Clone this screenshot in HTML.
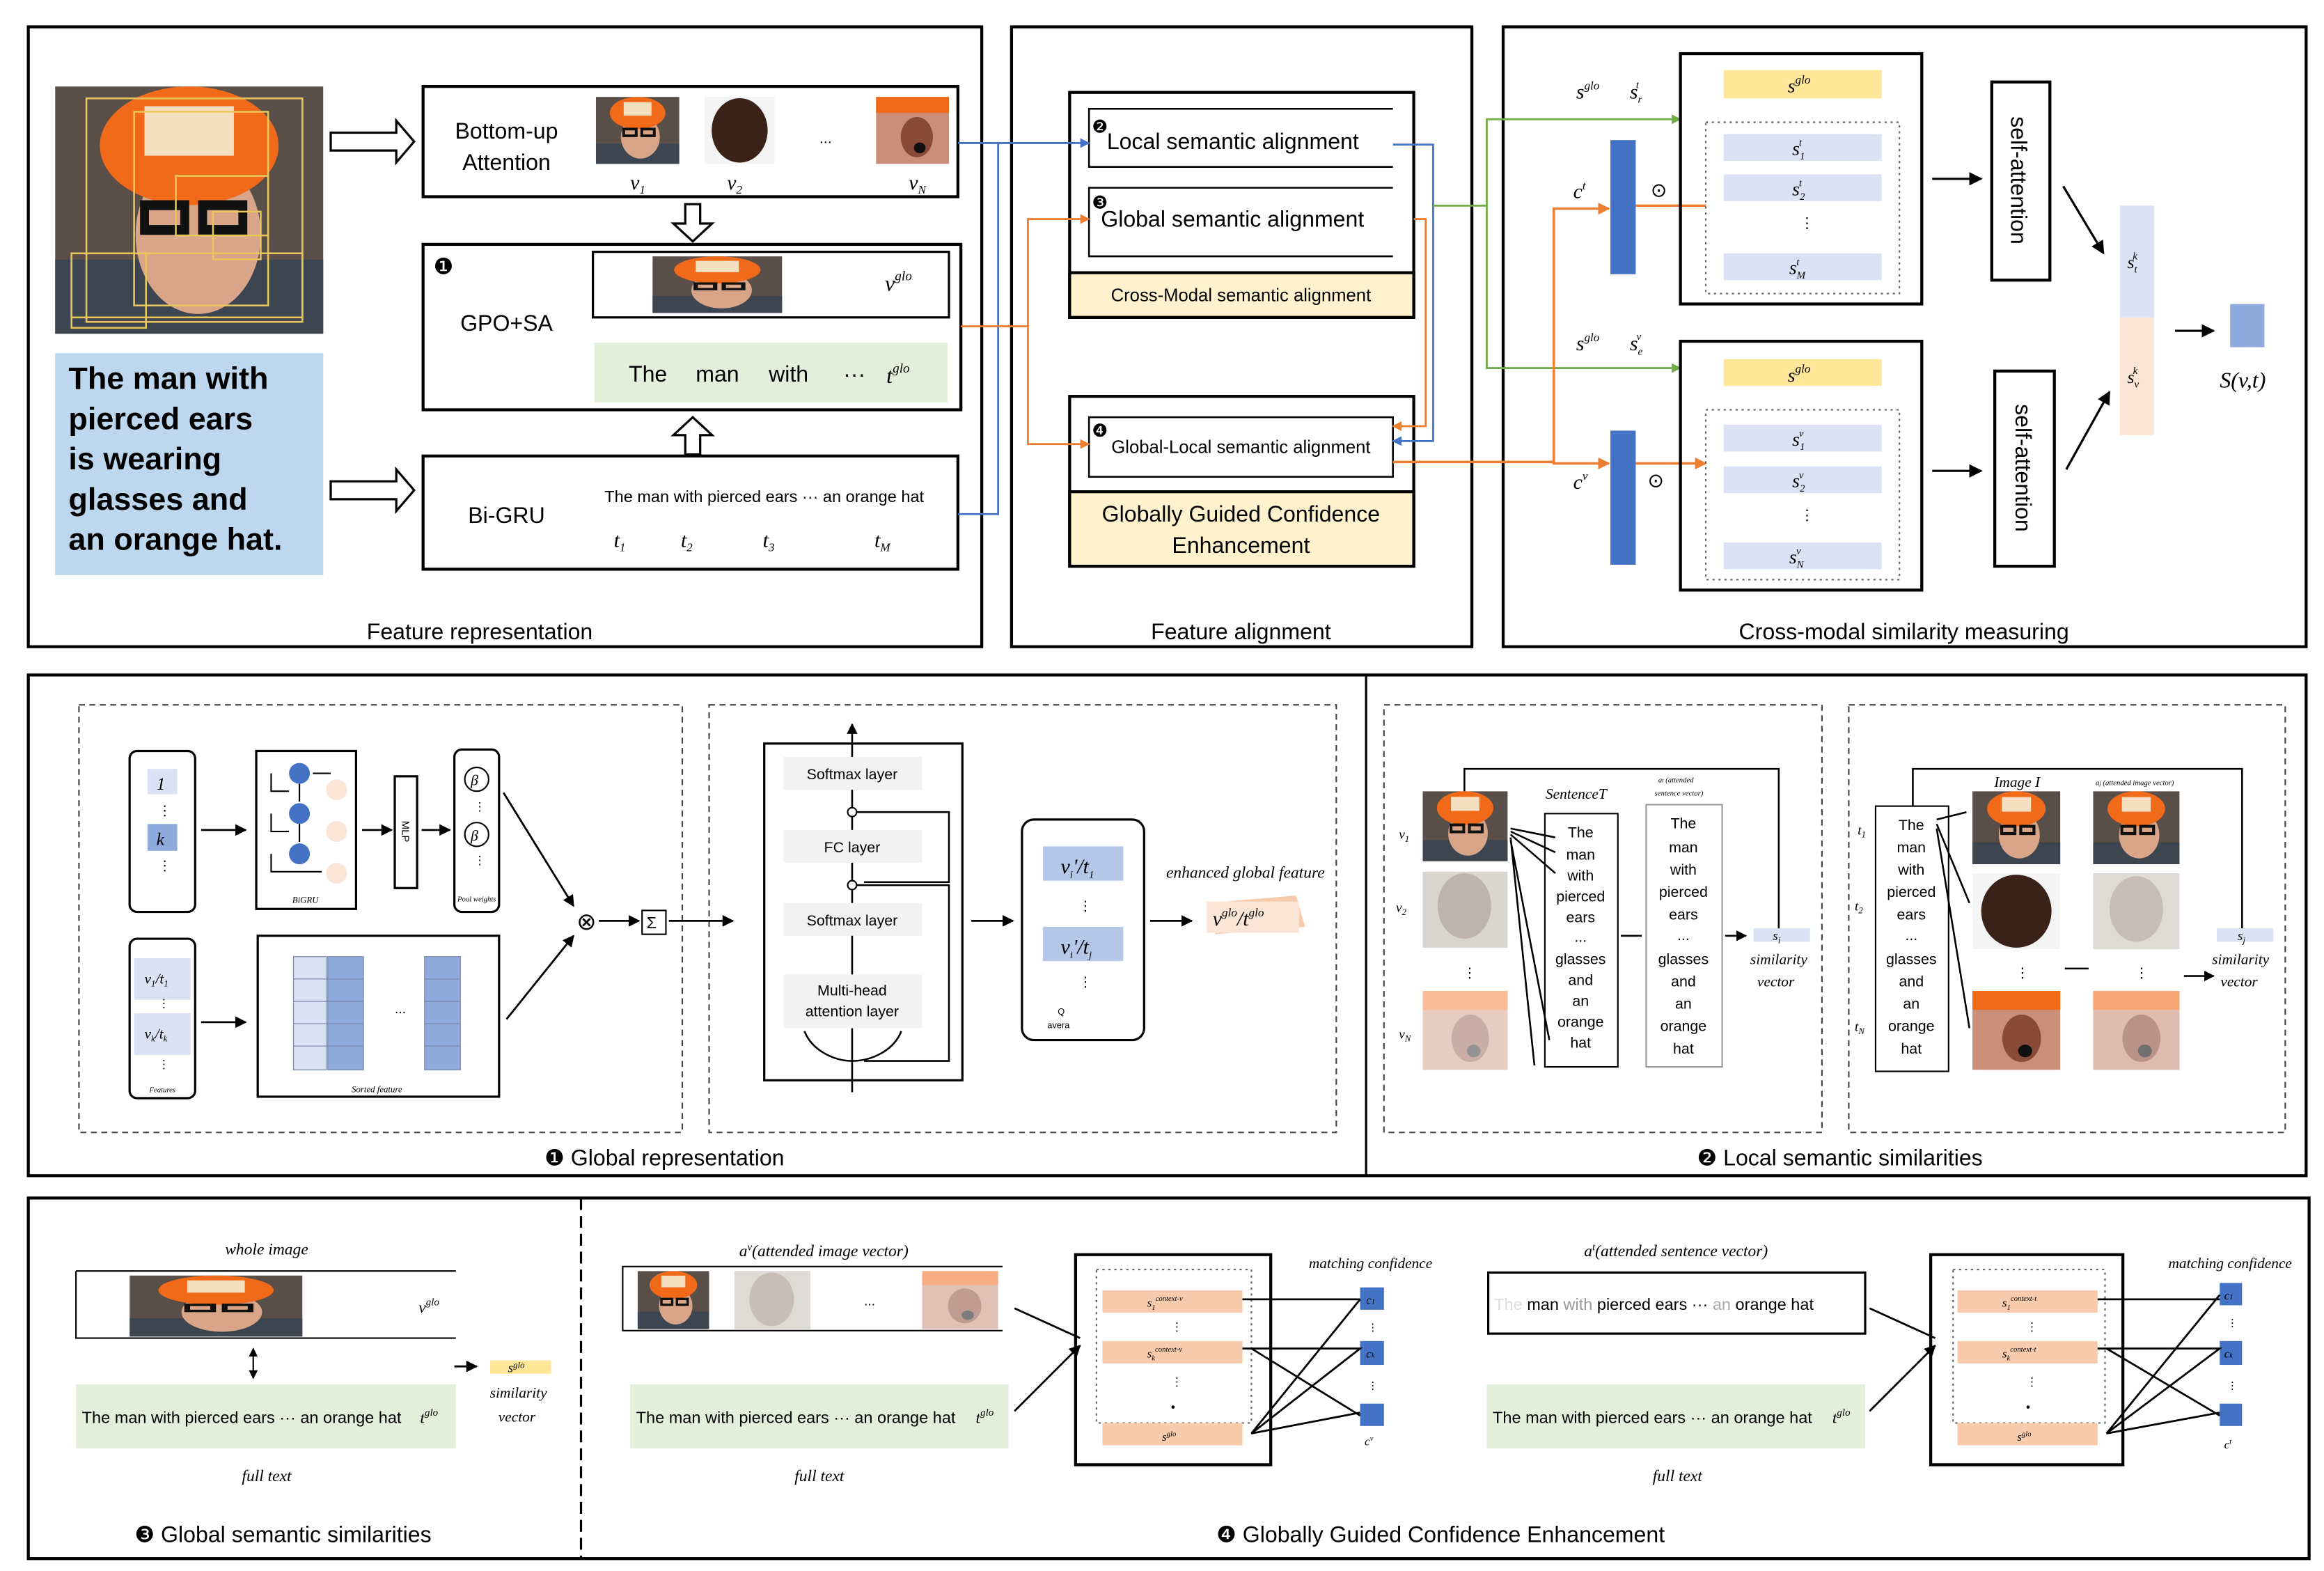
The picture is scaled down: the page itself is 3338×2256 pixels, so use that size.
<!DOCTYPE html>
<html><head><meta charset="utf-8"><style>
html,body{margin:0;padding:0;background:#fff}
svg{display:block}
text{font-family:"Liberation Sans",sans-serif;fill:#000}
.m{font-family:"Liberation Serif",serif;font-style:italic}
</style></head><body>
<svg width="3338" height="2256" viewBox="0 0 1560 1054.3" xmlns="http://www.w3.org/2000/svg">
<defs>
<marker id="a" viewBox="0 0 10 10" refX="9" refY="5" markerWidth="6" markerHeight="6" orient="auto"><path d="M0,0L10,5L0,10z" fill="#000"/></marker>
<marker id="ab" viewBox="0 0 10 10" refX="9" refY="5" markerWidth="5" markerHeight="5" orient="auto"><path d="M0,0L10,5L0,10z" fill="#4472c4"/></marker>
<marker id="ao" viewBox="0 0 10 10" refX="9" refY="5" markerWidth="5" markerHeight="5" orient="auto"><path d="M0,0L10,5L0,10z" fill="#ed7d31"/></marker>
<marker id="ag" viewBox="0 0 10 10" refX="9" refY="5" markerWidth="5" markerHeight="5" orient="auto"><path d="M0,0L10,5L0,10z" fill="#70ad47"/></marker>
<symbol id="face" viewBox="0 0 60 50" preserveAspectRatio="none">
<rect width="60" height="50" fill="#5a4e48"/><rect y="35" width="60" height="15" fill="#3d4650"/>
<ellipse cx="32" cy="30" rx="14" ry="16" fill="#d8a588"/>
<ellipse cx="30" cy="12" rx="20" ry="12" fill="#f06a1a"/><rect x="20" y="4" width="20" height="10" fill="#f4e0c0"/>
<rect x="20" y="24" width="9" height="5" fill="none" stroke="#111" stroke-width="2"/><rect x="33" y="24" width="9" height="5" fill="none" stroke="#111" stroke-width="2"/>
</symbol>
<symbol id="ear" viewBox="0 0 50 50" preserveAspectRatio="none">
<rect width="50" height="50" fill="#c98f78"/><rect width="50" height="12" fill="#f06a1a"/><ellipse cx="28" cy="30" rx="11" ry="15" fill="#8a4a3a"/><circle cx="30" cy="38" r="4" fill="#111"/>
</symbol>
<symbol id="hair" viewBox="0 0 50 50" preserveAspectRatio="none">
<rect width="50" height="50" fill="#f4f4f4"/><ellipse cx="25" cy="25" rx="20" ry="24" fill="#3a2218"/>
</symbol>
</defs>

<g fill="none" stroke="#000" stroke-width="2">
<rect x="19" y="18" width="640" height="416"/>
<rect x="679" y="18" width="309" height="416"/>
<rect x="1009" y="18" width="539" height="416"/>
</g>
<use href="#face" x="37" y="58" width="180" height="166"/>
<g fill="none" stroke="#e8c65a" stroke-width="1.2">
<rect x="58" y="66" width="145" height="150"/><rect x="90" y="75" width="90" height="130"/><rect x="118" y="118" width="62" height="40"/><rect x="143" y="142" width="32" height="32"/><rect x="48" y="170" width="155" height="43"/><rect x="48" y="170" width="50" height="50"/>
</g>
<rect x="37" y="237" width="180" height="149" fill="#bdd7ee"/>
<g font-size="21" font-weight="bold" fill="#222">
<text x="46" y="261">The man with</text><text x="46" y="288">pierced ears</text><text x="46" y="315">is wearing</text><text x="46" y="342">glasses and</text><text x="46" y="369">an orange hat.</text>
</g>
<g fill="#fff" stroke="#000" stroke-width="1.5">
<path d="M222,89h44v-8l12,14l-12,14v-8h-44z"/>
<path d="M222,323h44v-8l12,14l-12,14v-8h-44z"/>
<path d="M460,137h10v13h8l-13,12l-13,-12h8z"/>
<path d="M460,305h10v-13h8l-13,-12l-13,12h8z"/>
</g>
<rect x="284" y="58" width="359" height="74" fill="none" stroke="#000" stroke-width="2"/>
<text x="340" y="93" font-size="15" text-anchor="middle">Bottom-up</text>
<text x="340" y="114" font-size="15" text-anchor="middle">Attention</text>
<use href="#face" x="400" y="65" width="56" height="45"/>
<use href="#hair" x="473" y="65" width="47" height="45"/>
<use href="#ear" x="588" y="65" width="49" height="45"/>
<text x="550" y="96" font-size="10">...</text>
<text class="m" x="423" y="127" font-size="14">v<tspan font-size="8" dy="3">1</tspan></text>
<text class="m" x="488" y="127" font-size="14">v<tspan font-size="8" dy="3">2</tspan></text>
<text class="m" x="610" y="127" font-size="14">v<tspan font-size="8" dy="3">N</tspan></text>
<rect x="284" y="164" width="361" height="111" fill="none" stroke="#000" stroke-width="2"/>
<text x="291" y="184" font-size="15">❶</text>
<text x="340" y="222" font-size="15" text-anchor="middle">GPO+SA</text>
<rect x="398" y="169" width="239" height="44" fill="#fff" stroke="#000" stroke-width="1.5"/>
<use href="#face" x="438" y="172" width="87" height="38"/>
<text class="m" x="594" y="195" font-size="15">v<tspan font-size="9" dy="-7">glo</tspan></text>
<rect x="399" y="230" width="237" height="40" fill="#e2efda"/>
<text x="422" y="256" font-size="15">The</text><text x="467" y="256" font-size="15">man</text><text x="516" y="256" font-size="15">with</text><text x="566" y="256" font-size="15">···</text>
<text class="m" x="595" y="257" font-size="15">t<tspan font-size="9" dy="-7">glo</tspan></text>
<rect x="284" y="306" width="359" height="76" fill="none" stroke="#000" stroke-width="2"/>
<text x="340" y="351" font-size="15" text-anchor="middle">Bi-GRU</text>
<text x="513" y="337" font-size="11" text-anchor="middle">The man with pierced ears ··· an orange hat</text>
<text class="m" x="412" y="367" font-size="14">t<tspan font-size="8" dy="3">1</tspan></text>
<text class="m" x="457" y="367" font-size="14">t<tspan font-size="8" dy="3">2</tspan></text>
<text class="m" x="512" y="367" font-size="14">t<tspan font-size="8" dy="3">3</tspan></text>
<text class="m" x="587" y="367" font-size="14">t<tspan font-size="8" dy="3">M</tspan></text>
<text x="322" y="429" font-size="15" text-anchor="middle">Feature representation</text>

<rect x="718" y="62" width="231" height="151" fill="none" stroke="#000" stroke-width="2"/>
<rect x="718" y="183" width="231" height="30" fill="#fff2cc" stroke="#000" stroke-width="2"/>
<path d="M935,73H731V112H935M935,126H731V172H935" fill="none" stroke="#000" stroke-width="1.2"/>
<text x="733" y="89" font-size="12">❷</text><text x="743" y="100" font-size="15">Local semantic alignment</text>
<text x="733" y="140" font-size="12">❸</text><text x="739" y="152" font-size="15">Global semantic alignment</text>
<text x="833" y="202" font-size="12" text-anchor="middle">Cross-Modal semantic alignment</text>
<rect x="718" y="266" width="231" height="114" fill="none" stroke="#000" stroke-width="2"/>
<rect x="718" y="330" width="231" height="50" fill="#fff2cc" stroke="#000" stroke-width="2"/>
<rect x="731" y="280" width="204" height="40" fill="#fff" stroke="#000" stroke-width="1.2"/>
<text x="733" y="293" font-size="12">❹</text><text x="833" y="304" font-size="12" text-anchor="middle">Global-Local semantic alignment</text>
<text x="833" y="350" font-size="15" text-anchor="middle">Globally Guided Confidence</text>
<text x="833" y="371" font-size="15" text-anchor="middle">Enhancement</text>
<text x="833" y="429" font-size="15" text-anchor="middle">Feature alignment</text>

<g fill="none" stroke-width="1.3">
<path d="M643,96H731" stroke="#4472c4" marker-end="url(#ab)"/>
<path d="M643,345H670V96" stroke="#4472c4"/>
<path d="M645,219H690V147H731" stroke="#ed7d31" marker-end="url(#ao)"/>
<path d="M690,219V298H731" stroke="#ed7d31" marker-end="url(#ao)"/>
<path d="M935,97H962V296H935" stroke="#4472c4" marker-end="url(#ab)"/>
<path d="M949,147H957V286H935" stroke="#ed7d31" marker-end="url(#ao)"/>
<path d="M962,138H998V80H1128" stroke="#70ad47" marker-end="url(#ag)"/>
<path d="M998,138V247H1128" stroke="#70ad47" marker-end="url(#ag)"/>
<path d="M935,310H1043V140H1080" stroke="#ed7d31" stroke-width="1.6" marker-end="url(#ao)"/>
<path d="M1043,310V311H1080" stroke="#ed7d31" stroke-width="1.6" marker-end="url(#ao)"/>
<path d="M1098,138H1145M1098,311H1145" stroke="#ed7d31" stroke-width="1.6" marker-end="url(#ao)"/>
</g>

<g>
<rect x="1128" y="36" width="162" height="168" fill="none" stroke="#000" stroke-width="2"/>
<rect x="1157" y="47" width="106" height="19" fill="#ffe699"/>
<text class="m" x="1200" y="62" font-size="13">s<tspan font-size="8" dy="-6">glo</tspan></text>
<rect x="1145" y="82" width="130" height="115" fill="none" stroke="#666" stroke-width="1" stroke-dasharray="1.5,2.5"/>
<rect x="1157" y="90" width="106" height="18" fill="#dae3f3"/><rect x="1157" y="117" width="106" height="18" fill="#dae3f3"/><rect x="1157" y="170" width="106" height="18" fill="#dae3f3"/>
<text class="m" x="1203" y="104" font-size="13">s<tspan font-size="7" dy="3">1</tspan><tspan font-size="7" dx="-4" dy="-9">t</tspan></text>
<text class="m" x="1203" y="131" font-size="13">s<tspan font-size="7" dy="3">2</tspan><tspan font-size="7" dx="-4" dy="-9">t</tspan></text>
<text x="1208" y="153" font-size="10">⋮</text>
<text class="m" x="1201" y="184" font-size="13">s<tspan font-size="7" dy="3">M</tspan><tspan font-size="7" dx="-6" dy="-9">t</tspan></text>
<rect x="1081" y="94" width="17" height="90" fill="#4472c4"/>
<text class="m" x="1056" y="133" font-size="14">c<tspan font-size="8" dy="-6">t</tspan></text>
<text x="1108" y="132" font-size="13">⊙</text>
<text class="m" x="1058" y="66" font-size="14">s<tspan font-size="8" dy="-6">glo</tspan></text>
<text class="m" x="1094" y="66" font-size="14">s<tspan font-size="7" dy="3">r</tspan><tspan font-size="7" dx="-4" dy="-10">t</tspan></text>

<rect x="1128" y="229" width="162" height="167" fill="none" stroke="#000" stroke-width="2"/>
<rect x="1157" y="241" width="106" height="18" fill="#ffe699"/>
<text class="m" x="1200" y="256" font-size="13">s<tspan font-size="8" dy="-6">glo</tspan></text>
<rect x="1145" y="275" width="130" height="114" fill="none" stroke="#666" stroke-width="1" stroke-dasharray="1.5,2.5"/>
<rect x="1157" y="285" width="106" height="18" fill="#dae3f3"/><rect x="1157" y="313" width="106" height="18" fill="#dae3f3"/><rect x="1157" y="364" width="106" height="18" fill="#dae3f3"/>
<text class="m" x="1203" y="299" font-size="13">s<tspan font-size="7" dy="3">1</tspan><tspan font-size="7" dx="-4" dy="-9">v</tspan></text>
<text class="m" x="1203" y="327" font-size="13">s<tspan font-size="7" dy="3">2</tspan><tspan font-size="7" dx="-4" dy="-9">v</tspan></text>
<text x="1208" y="349" font-size="10">⋮</text>
<text class="m" x="1201" y="378" font-size="13">s<tspan font-size="7" dy="3">N</tspan><tspan font-size="7" dx="-5" dy="-9">v</tspan></text>
<rect x="1081" y="289" width="17" height="90" fill="#4472c4"/>
<text class="m" x="1056" y="328" font-size="14">c<tspan font-size="8" dy="-6">v</tspan></text>
<text x="1106" y="327" font-size="13">⊙</text>
<text class="m" x="1058" y="235" font-size="14">s<tspan font-size="8" dy="-6">glo</tspan></text>
<text class="m" x="1094" y="235" font-size="14">s<tspan font-size="7" dy="3">e</tspan><tspan font-size="7" dx="-4" dy="-10">v</tspan></text>

<rect x="1337" y="55" width="39" height="133" fill="#fff" stroke="#000" stroke-width="2"/>
<rect x="1339" y="249" width="40" height="131" fill="#fff" stroke="#000" stroke-width="2"/>
<text transform="translate(1350,121) rotate(90)" font-size="15" text-anchor="middle">self-attention</text>
<text transform="translate(1353,314) rotate(90)" font-size="15" text-anchor="middle">self-attention</text>
<g stroke="#000" stroke-width="1.5" fill="none" marker-end="url(#a)">
<path d="M1297,120H1330"/><path d="M1297,316H1330"/><path d="M1385,125L1412,170"/><path d="M1387,315L1416,263"/><path d="M1460,222H1486"/>
</g>
<rect x="1423" y="138" width="23" height="75" fill="#dae3f3"/><rect x="1423" y="213" width="23" height="79" fill="#fbe5d6"/>
<text class="m" x="1428" y="180" font-size="12">s<tspan font-size="7" dy="3">t</tspan><tspan font-size="7" dx="-3" dy="-9">k</tspan></text>
<text class="m" x="1428" y="257" font-size="12">s<tspan font-size="7" dy="3">v</tspan><tspan font-size="7" dx="-4" dy="-9">k</tspan></text>
<rect x="1497" y="204" width="23" height="29" fill="#8faadc"/>
<text class="m" x="1490" y="260" font-size="15">S(v,t)</text>
<text x="1278" y="429" font-size="15" text-anchor="middle">Cross-modal similarity measuring</text>
</g>

<rect x="19" y="453" width="1529" height="336" fill="none" stroke="#000" stroke-width="2"/>
<path d="M917,453V789" stroke="#000" stroke-width="1.5"/>
<g fill="none" stroke="#444" stroke-width="1" stroke-dasharray="4,3">
<rect x="53" y="473" width="405" height="287"/><rect x="476" y="473" width="421" height="287"/>
<rect x="929" y="473" width="294" height="287"/><rect x="1241" y="473" width="293" height="287"/>
</g>
<rect x="87" y="504" width="44" height="108" rx="5" fill="none" stroke="#000" stroke-width="1.5"/>
<rect x="99" y="516" width="20" height="17" fill="#dae3f3"/><text class="m" x="105" y="530" font-size="12">1</text>
<text x="106" y="547" font-size="9">⋮</text>
<rect x="99" y="553" width="20" height="18" fill="#8faadc"/><text class="m" x="105" y="567" font-size="12">k</text>
<text x="106" y="584" font-size="9">⋮</text>
<rect x="172" y="504" width="67" height="106" fill="none" stroke="#000" stroke-width="1.5"/>
<g fill="#4472c4"><circle cx="201" cy="519" r="7"/><circle cx="201" cy="546" r="7"/><circle cx="201" cy="573" r="7"/></g>
<g fill="#fbe5d6"><circle cx="226" cy="530" r="7"/><circle cx="226" cy="558" r="7"/><circle cx="226" cy="586" r="7"/></g>
<g stroke="#000" stroke-width="1" fill="none"><path d="M182,519V531H194M182,546V558H194M182,573V585H216M201,526V538M201,553V565M210,519H222"/></g>
<text x="205" y="606" font-size="6" class="m" text-anchor="middle">BiGRU</text>
<rect x="265" y="521" width="15" height="75" fill="none" stroke="#000" stroke-width="1.5"/>
<text transform="translate(270,558) rotate(90)" font-size="7" text-anchor="middle">MLP</text>
<rect x="305" y="503" width="30" height="109" rx="5" fill="none" stroke="#000" stroke-width="1.5"/>
<circle cx="320" cy="523" r="8" fill="none" stroke="#000"/><text class="m" x="316" y="527" font-size="10">β</text>
<circle cx="320" cy="560" r="8" fill="none" stroke="#000"/><text class="m" x="316" y="564" font-size="10">β</text>
<text x="318" y="544" font-size="8">⋮</text><text x="318" y="580" font-size="8">⋮</text>
<text x="320" y="605" font-size="5" class="m" text-anchor="middle">Pool weights</text>
<rect x="87" y="630" width="44" height="107" rx="5" fill="none" stroke="#000" stroke-width="1.5"/>
<rect x="90" y="643" width="38" height="28" fill="#dae3f3"/><rect x="90" y="680" width="38" height="28" fill="#dae3f3"/>
<text class="m" x="97" y="660" font-size="10">v<tspan font-size="6" dy="2">1</tspan><tspan dy="-2">/t</tspan><tspan font-size="6" dy="2">1</tspan></text>
<text class="m" x="97" y="697" font-size="10">v<tspan font-size="6" dy="2">k</tspan><tspan dy="-2">/t</tspan><tspan font-size="6" dy="2">k</tspan></text>
<text x="106" y="676" font-size="8">⋮</text><text x="106" y="717" font-size="8">⋮</text>
<text x="109" y="733" font-size="5" class="m" text-anchor="middle">Features</text>
<rect x="173" y="628" width="162" height="108" fill="none" stroke="#000" stroke-width="1.5"/>
<g stroke="#7a8aa8" stroke-width="0.6">
<rect x="197" y="642" width="22" height="76" fill="#dae3f3"/><rect x="220" y="642" width="24" height="76" fill="#8faadc"/><rect x="285" y="642" width="24" height="76" fill="#8faadc"/>
<path d="M197,657H244M197,672H244M197,687H244M197,702H244M285,657H309M285,672H309M285,687H309M285,702H309"/>
</g>
<text x="265" y="680" font-size="9">...</text>
<text x="253" y="733" font-size="6" class="m" text-anchor="middle">Sorted feature</text>
<g stroke="#000" stroke-width="1.3" fill="none" marker-end="url(#a)">
<path d="M135,557H165"/><path d="M243,557H263"/><path d="M283,557H302"/><path d="M135,686H165"/>
<path d="M338,532L385,608"/><path d="M340,684L385,628"/><path d="M402,618H429"/><path d="M449,618H492"/>
<path d="M652,618H680"/><path d="M772,618H800"/>
</g>
<text x="387" y="624" font-size="16">⊗</text>
<rect x="431" y="611" width="16" height="16" fill="none" stroke="#000"/><text x="434" y="623" font-size="11">Σ</text>
<rect x="513" y="499" width="133" height="226" fill="none" stroke="#000" stroke-width="1.5"/>
<g fill="#f2f2f2"><rect x="526" y="508" width="93" height="22"/><rect x="526" y="557" width="93" height="22"/><rect x="526" y="606" width="93" height="22"/><rect x="526" y="654" width="93" height="36"/></g>
<g font-size="10" text-anchor="middle"><text x="572" y="523">Softmax layer</text><text x="572" y="572">FC layer</text><text x="572" y="621">Softmax layer</text><text x="572" y="668">Multi-head</text><text x="572" y="682">attention layer</text></g>
<g stroke="#000" stroke-width="1.2" fill="none">
<path d="M572,733V690M572,654V628M572,606V579M572,557V530M572,508V486" marker-end="url(#a)"/>
<path d="M572,594H637V712H580M572,545H637V592H580"/>
<path d="M572,712C560,712 545,705 540,692M572,712C585,712 600,705 605,692"/>
</g>
<circle cx="572" cy="594" r="3" fill="#fff" stroke="#000"/><circle cx="572" cy="545" r="3" fill="#fff" stroke="#000"/>
<rect x="686" y="550" width="82" height="148" rx="8" fill="none" stroke="#000" stroke-width="1.5"/>
<rect x="700" y="568" width="54" height="23" fill="#b4c7e7"/><rect x="700" y="622" width="54" height="23" fill="#b4c7e7"/>
<text class="m" x="712" y="586" font-size="14">v<tspan font-size="7" dy="3">i</tspan><tspan dy="-3">'/t</tspan><tspan font-size="7" dy="3">1</tspan></text>
<text class="m" x="712" y="640" font-size="14">v<tspan font-size="7" dy="3">i</tspan><tspan dy="-3">'/t</tspan><tspan font-size="7" dy="3">j</tspan></text>
<text x="724" y="611" font-size="9">⋮</text><text x="724" y="662" font-size="9">⋮</text>
<text x="710" y="681" font-size="6">Q</text><text x="703" y="690" font-size="6">avera</text>
<text class="m" x="836" y="589" font-size="11" text-anchor="middle">enhanced global feature</text>
<path d="M810,606L870,601L876,622L816,627z" fill="#f8cbad"/><rect x="810" y="605" width="62" height="21" fill="#fbe5d6"/>
<text class="m" x="814" y="621" font-size="14">v<tspan font-size="8" dy="-6">glo</tspan><tspan dy="6">/t</tspan><tspan font-size="8" dy="-6">glo</tspan></text>
<text x="446" y="782" font-size="15" text-anchor="middle">❶  Global representation</text>
<use href="#face" x="955" y="531" width="57" height="47"/>
<rect x="955" y="585" width="57" height="51" fill="#d9d6d2"/><ellipse cx="983" cy="608" rx="18" ry="22" fill="#bdb4ad"/>
<use href="#ear" x="955" y="665" width="57" height="53"/><rect x="955" y="665" width="57" height="53" fill="#fff" opacity="0.55"/>
<text class="m" x="939" y="563" font-size="9">v<tspan font-size="6" dy="2">1</tspan></text>
<text class="m" x="937" y="612" font-size="9">v<tspan font-size="6" dy="2">2</tspan></text>
<text class="m" x="939" y="697" font-size="9">v<tspan font-size="6" dy="2">N</tspan></text>
<text x="982" y="656" font-size="9">⋮</text>
<rect x="1037" y="546" width="49" height="170" fill="none" stroke="#000"/>
<g font-size="10" text-anchor="middle"><text x="1061" y="562">The</text><text x="1061" y="577">man</text><text x="1061" y="591">with</text><text x="1061" y="605">pierced</text><text x="1061" y="619">ears</text><text x="1061" y="632">...</text><text x="1061" y="647">glasses</text><text x="1061" y="661">and</text><text x="1061" y="675">an</text><text x="1061" y="689">orange</text><text x="1061" y="703">hat</text></g>
<rect x="1105" y="540" width="51" height="176" fill="none" stroke="#999"/>
<g font-size="10" text-anchor="middle"><text x="1130" y="556" fill="#ddd">The</text><text x="1130" y="572">man</text><text x="1130" y="587" fill="#aaa">with</text><text x="1130" y="602">pierced</text><text x="1130" y="617">ears</text><text x="1130" y="631">...</text><text x="1130" y="647" fill="#999">glasses</text><text x="1130" y="662" fill="#bbb">and</text><text x="1130" y="677" fill="#bbb">an</text><text x="1130" y="692">orange</text><text x="1130" y="707">hat</text></g>
<text class="m" x="1058" y="536" font-size="10" text-anchor="middle">SentenceT</text>
<text class="m" x="1125" y="525" font-size="5" text-anchor="middle">a<tspan font-size="4">t</tspan> (attended</text>
<text class="m" x="1127" y="534" font-size="5" text-anchor="middle">sentence vector)</text>
<g stroke="#000" stroke-width="1.2" fill="none">
<path d="M983,531V516H1194V630" marker-end="url(#a)"/>
<path d="M1014,556L1044,562M1014,558L1044,572M1014,560L1044,586M1014,562L1030,715M1014,564L1040,698M1088,628H1102M1158,628H1172" marker-end="url(#a)"/>
</g>
<rect x="1177" y="623" width="38" height="9" fill="#dae3f3"/><text class="m" x="1190" y="631" font-size="9">s<tspan font-size="6" dy="2">i</tspan></text>
<text class="m" x="1194" y="647" font-size="10" text-anchor="middle">similarity</text><text class="m" x="1192" y="662" font-size="10" text-anchor="middle">vector</text>
<rect x="1259" y="541" width="49" height="178" fill="none" stroke="#000"/>
<g font-size="10" text-anchor="middle"><text x="1283" y="557">The</text><g fill="#bbb"><text x="1283" y="572">man</text><text x="1283" y="587">with</text><text x="1283" y="602">pierced</text><text x="1283" y="617">ears</text><text x="1283" y="631">...</text><text x="1283" y="647">glasses</text><text x="1283" y="662">and</text><text x="1283" y="677">an</text><text x="1283" y="692">orange</text><text x="1283" y="707">hat</text></g></g>
<text class="m" x="1247" y="560" font-size="9">t<tspan font-size="6" dy="2">1</tspan></text>
<text class="m" x="1245" y="611" font-size="9">t<tspan font-size="6" dy="2">2</tspan></text>
<text class="m" x="1245" y="692" font-size="9">t<tspan font-size="6" dy="2">N</tspan></text>
<use href="#face" x="1324" y="531" width="59" height="49"/>
<use href="#hair" x="1324" y="586" width="59" height="51"/>
<use href="#ear" x="1324" y="665" width="59" height="53"/>
<use href="#face" x="1405" y="531" width="58" height="49"/>
<rect x="1405" y="586" width="58" height="51" fill="#dedad6"/><ellipse cx="1434" cy="610" rx="18" ry="22" fill="#c6bdb6"/>
<use href="#ear" x="1405" y="665" width="58" height="53"/><rect x="1405" y="665" width="58" height="53" fill="#fff" opacity="0.4"/>
<text x="1353" y="656" font-size="9">⋮</text><text x="1433" y="656" font-size="9">⋮</text>
<text class="m" x="1354" y="528" font-size="10" text-anchor="middle">Image I</text>
<text class="m" x="1433" y="527" font-size="5" text-anchor="middle">a<tspan font-size="4">j</tspan> (attended image vector)</text>
<g stroke="#000" stroke-width="1.2" fill="none">
<path d="M1284,541V516H1505V630" marker-end="url(#a)"/>
<path d="M1300,550L1320,545M1300,553L1322,606M1300,556L1322,690M1386,650H1402M1466,655H1486" marker-end="url(#a)"/>
</g>
<rect x="1488" y="623" width="38" height="9" fill="#dae3f3"/><text class="m" x="1502" y="631" font-size="9">s<tspan font-size="6" dy="2">j</tspan></text>
<text class="m" x="1504" y="647" font-size="10" text-anchor="middle">similarity</text><text class="m" x="1503" y="662" font-size="10" text-anchor="middle">vector</text>
<text x="1235" y="782" font-size="15" text-anchor="middle">❷  Local semantic similarities</text>

<rect x="19" y="804" width="1531" height="242" fill="none" stroke="#000" stroke-width="2"/>
<path d="M390,804V1046" stroke="#000" stroke-width="1.5" stroke-dasharray="8,4"/>
<text class="m" x="179" y="842" font-size="11" text-anchor="middle">whole image</text>
<path d="M51,853V898H306M51,853H306" stroke="#000" fill="none"/>
<use href="#face" x="87" y="856" width="116" height="41"/>
<text class="m" x="281" y="881" font-size="11">v<tspan font-size="7" dy="-5">glo</tspan></text>
<path d="M170,915V925" stroke="#000" marker-end="url(#a)"/>
<path d="M170,915V905" stroke="#000" marker-end="url(#a)"/>
<rect x="51" y="929" width="255" height="43" fill="#e2efda"/>
<text x="55" y="955" font-size="11">The man with pierced ears ··· an orange hat</text>
<text class="m" x="282" y="955" font-size="11">t<tspan font-size="7" dy="-5">glo</tspan></text>
<text class="m" x="179" y="994" font-size="11" text-anchor="middle">full text</text>
<path d="M305,917H320" stroke="#000" stroke-width="1.3" marker-end="url(#a)"/>
<rect x="329" y="913" width="41" height="9" fill="#ffe699"/><text class="m" x="341" y="921" font-size="9">s<tspan font-size="6" dy="-3">glo</tspan></text>
<text class="m" x="348" y="938" font-size="10" text-anchor="middle">similarity</text><text class="m" x="347" y="954" font-size="10" text-anchor="middle">vector</text>
<text x="190" y="1035" font-size="15" text-anchor="middle">❸  Global semantic similarities</text>

<text class="m" x="553" y="843" font-size="11" text-anchor="middle">a<tspan font-size="7" dy="-4">v</tspan><tspan dy="4">(attended image vector)</tspan></text>
<path d="M673,850H418V893H673" stroke="#000" fill="none"/>
<use href="#face" x="428" y="853" width="48" height="39"/>
<rect x="493" y="853" width="51" height="39" fill="#dedad6"/><ellipse cx="518" cy="872" rx="15" ry="18" fill="#c7beb7"/>
<use href="#ear" x="619" y="853" width="51" height="39"/><rect x="619" y="853" width="51" height="39" fill="#fff" opacity="0.45"/>
<text x="580" y="876" font-size="9">...</text>
<rect x="423" y="929" width="254" height="43" fill="#e2efda"/>
<text x="427" y="955" font-size="11">The man with pierced ears ··· an orange hat</text>
<text class="m" x="655" y="955" font-size="11">t<tspan font-size="7" dy="-5">glo</tspan></text>
<text class="m" x="550" y="994" font-size="11" text-anchor="middle">full text</text>
<rect x="722" y="842" width="131" height="141" fill="none" stroke="#000" stroke-width="2"/>
<rect x="736" y="852" width="104" height="103" fill="none" stroke="#666" stroke-dasharray="1.5,2.5"/>
<rect x="740" y="866" width="94" height="15" fill="#f8cbad"/><rect x="740" y="900" width="94" height="15" fill="#f8cbad"/><rect x="740" y="955" width="94" height="15" fill="#f8cbad"/>
<text x="786" y="893" font-size="8">⋮</text><text x="786" y="930" font-size="8">⋮</text><text x="786" y="947" font-size="8">•</text>
<text class="m" x="770" y="877" font-size="8">s<tspan font-size="5" dy="2">1</tspan><tspan font-size="5" dy="-6">context-v</tspan></text>
<text class="m" x="770" y="911" font-size="8">s<tspan font-size="5" dy="2">k</tspan><tspan font-size="5" dy="-6">context-v</tspan></text>
<text class="m" x="780" y="967" font-size="8">s<tspan font-size="5" dy="-3">glo</tspan></text>
<g fill="#4472c4"><rect x="913" y="864" width="16" height="15"/><rect x="913" y="900" width="16" height="16"/><rect x="913" y="942" width="16" height="15"/></g>
<text class="m" x="917" y="875" font-size="8" fill="#fff">c<tspan font-size="5">1</tspan></text>
<text class="m" x="917" y="911" font-size="8" fill="#fff">c<tspan font-size="5">k</tspan></text>
<text x="918" y="893" font-size="7">⋮</text><text x="918" y="932" font-size="7">⋮</text>
<text class="m" x="916" y="970" font-size="8">c<tspan font-size="5" dy="-3">v</tspan></text>
<text class="m" x="920" y="851" font-size="10" text-anchor="middle">matching confidence</text>
<g stroke="#000" stroke-width="1.3" fill="none">
<path d="M834,872H913M834,905H913L840,962L913,948M840,905L913,950M840,962L913,872"/>
<path d="M681,878L725,898M681,947L725,903" marker-end="url(#a)"/>
</g>

<text class="m" x="1125" y="843" font-size="11" text-anchor="middle">a<tspan font-size="7" dy="-4">t</tspan><tspan dy="4">(attended sentence vector)</tspan></text>
<rect x="999" y="854" width="253" height="41" fill="none" stroke="#000" stroke-width="1.5"/>
<text x="1003" y="879" font-size="11"><tspan fill="#ddd">The </tspan>man <tspan fill="#999">with</tspan> pierced ears ··· <tspan fill="#aaa">an</tspan> orange hat</text>
<rect x="998" y="929" width="254" height="43" fill="#e2efda"/>
<text x="1002" y="955" font-size="11">The man with pierced ears ··· an orange hat</text>
<text class="m" x="1230" y="955" font-size="11">t<tspan font-size="7" dy="-5">glo</tspan></text>
<text class="m" x="1126" y="994" font-size="11" text-anchor="middle">full text</text>
<rect x="1296" y="842" width="129" height="141" fill="none" stroke="#000" stroke-width="2"/>
<rect x="1311" y="852" width="102" height="103" fill="none" stroke="#666" stroke-dasharray="1.5,2.5"/>
<rect x="1314" y="866" width="94" height="15" fill="#f8cbad"/><rect x="1314" y="900" width="94" height="15" fill="#f8cbad"/><rect x="1314" y="955" width="94" height="15" fill="#f8cbad"/>
<text x="1360" y="893" font-size="8">⋮</text><text x="1360" y="930" font-size="8">⋮</text><text x="1360" y="947" font-size="8">•</text>
<text class="m" x="1344" y="877" font-size="8">s<tspan font-size="5" dy="2">1</tspan><tspan font-size="5" dy="-6">context-t</tspan></text>
<text class="m" x="1344" y="911" font-size="8">s<tspan font-size="5" dy="2">k</tspan><tspan font-size="5" dy="-6">context-t</tspan></text>
<text class="m" x="1354" y="967" font-size="8">s<tspan font-size="5" dy="-3">glo</tspan></text>
<g fill="#4472c4"><rect x="1490" y="861" width="15" height="15"/><rect x="1490" y="900" width="15" height="16"/><rect x="1490" y="942" width="15" height="15"/></g>
<text class="m" x="1493" y="872" font-size="8" fill="#fff">c<tspan font-size="5">1</tspan></text>
<text class="m" x="1493" y="911" font-size="8" fill="#fff">c<tspan font-size="5">k</tspan></text>
<text x="1495" y="890" font-size="7">⋮</text><text x="1495" y="932" font-size="7">⋮</text>
<text class="m" x="1493" y="972" font-size="8">c<tspan font-size="5" dy="-3">t</tspan></text>
<text class="m" x="1497" y="851" font-size="10" text-anchor="middle">matching confidence</text>
<g stroke="#000" stroke-width="1.3" fill="none">
<path d="M1408,872H1490M1408,905H1490L1414,962L1490,948M1414,905L1490,950M1414,962L1490,869"/>
<path d="M1255,878L1299,898M1255,947L1299,903" marker-end="url(#a)"/>
</g>
<text x="967" y="1035" font-size="15" text-anchor="middle">❹  Globally Guided Confidence Enhancement</text>
</svg>
</body></html>
